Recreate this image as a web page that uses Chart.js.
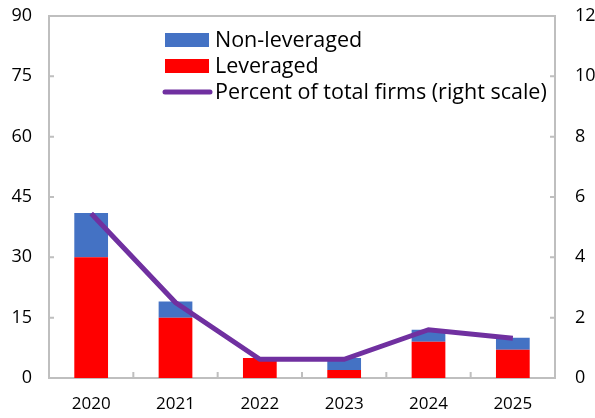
<!DOCTYPE html>
<html>
<head>
<meta charset="utf-8">
<script src="https://cdn.jsdelivr.net/npm/chart.js@4"></script>
<style>
  html, body { margin: 0; padding: 0; background: #ffffff; }
  #wrap { width: 595px; height: 418px; }
</style>
</head>
<body>
<div id="wrap"><canvas id="c" width="595" height="418"></canvas></div>
<script>
const categories = ["2020", "2021", "2022", "2023", "2024", "2025"];
const leveraged = [30, 15, 5, 2, 9, 7];
const nonLeveraged = [11, 4, 0, 3, 3, 3];
const percentOfFirms = [5.45, 2.5, 0.62, 0.62, 1.6, 1.32];
const leftTicks = [0, 15, 30, 45, 60, 75, 90];
const rightTicks = [0, 2, 4, 6, 8, 10, 12];

const FONT = "'Open Sans', 'Noto Sans', sans-serif";
const AXIS = "#bfbfbf";

const framePlugin = {
  id: "frame",
  afterDatasetsDraw(chart) {
    const ctx = chart.ctx;
    const a = chart.chartArea;
    const x = chart.scales.x, y = chart.scales.y, y1 = chart.scales.y1;
    ctx.save();
    ctx.strokeStyle = AXIS;
    ctx.lineWidth = 2;
    ctx.beginPath();
    ctx.moveTo(a.left - 1, a.top);
    ctx.lineTo(a.right + 1, a.top);
    y.ticks.forEach(t => {
      const py = y.getPixelForValue(t.value);
      ctx.moveTo(a.left, py);
      ctx.lineTo(a.left + 5, py);
    });
    y1.ticks.forEach(t => {
      const py = y1.getPixelForValue(t.value);
      ctx.moveTo(a.right, py);
      ctx.lineTo(a.right - 5, py);
    });
    for (let i = 1; i < categories.length; i++) {
      const px = (x.getPixelForValue(i - 1) + x.getPixelForValue(i)) / 2;
      ctx.moveTo(px, a.bottom);
      ctx.lineTo(px, a.bottom - 6);
    }
    ctx.stroke();
    ctx.restore();
  }
};

const legendPlugin = {
  id: "insideLegend",
  afterDraw(chart) {
    const ctx = chart.ctx;
    const ds = chart.data.datasets;
    const items = [ds[2], ds[1], ds[0]];
    const x0 = 165, x1 = 209, tx = 215;
    const rows = [40, 66, 92];
    ctx.save();
    ctx.font = "21.5px " + FONT;
    ctx.textBaseline = "middle";
    items.forEach((d, i) => {
      const cy = rows[i];
      if (d.type === "line") {
        ctx.strokeStyle = d.borderColor;
        ctx.lineWidth = 5;
        ctx.lineCap = "round";
        ctx.beginPath();
        ctx.moveTo(x0, cy);
        ctx.lineTo(x1 + 1, cy);
        ctx.stroke();
      } else {
        ctx.fillStyle = d.backgroundColor;
        ctx.fillRect(x0, cy - 7, x1 - x0, 14);
      }
      ctx.fillStyle = "#000000";
      ctx.textAlign = "left";
      ctx.fillText(d.label, tx, cy + 1);
    });
    ctx.restore();
  }
};

new Chart(document.getElementById("c"), {
  type: "bar",
  data: {
    labels: categories,
    datasets: [
      {
        label: "Percent of total firms (right scale)",
        type: "line",
        data: percentOfFirms,
        yAxisID: "y1",
        borderColor: "#7030a0",
        backgroundColor: "#7030a0",
        borderWidth: 5,
        pointRadius: 0,
        tension: 0,
        order: 0
      },
      {
        label: "Leveraged",
        data: leveraged,
        yAxisID: "y",
        backgroundColor: "#ff0000",
        barPercentage: 0.4,
        categoryPercentage: 1.0,
        stack: "s",
        order: 1
      },
      {
        label: "Non-leveraged",
        data: nonLeveraged,
        yAxisID: "y",
        backgroundColor: "#4472c4",
        barPercentage: 0.4,
        categoryPercentage: 1.0,
        stack: "s",
        order: 1
      }
    ]
  },
  options: {
    responsive: false,
    animation: false,
    devicePixelRatio: 1,
    layout: { padding: { top: 16, left: 0, right: 0, bottom: 0 } },
    plugins: { legend: { display: false }, tooltip: { enabled: false } },
    scales: {
      x: {
        stacked: true,
        offset: true,
        grid: { display: false, drawTicks: false },
        border: { display: true, color: AXIS, width: 2 },
        ticks: { color: "#000000", font: { family: FONT, size: 17 }, padding: 16, maxRotation: 0 },
        afterFit(s) { s.height = 40; s.paddingLeft = 0; s.paddingRight = 0; }
      },
      y: {
        position: "left",
        stacked: true,
        min: 0, max: 90,
        afterBuildTicks(s) { s.ticks = leftTicks.map(v => ({ value: v })); },
        grid: { display: false, drawTicks: false },
        border: { display: true, color: AXIS, width: 2 },
        ticks: { color: "#000000", font: { family: FONT, size: 18 }, padding: 17 },
        afterFit(s) { s.width = 49; s.paddingTop = 0; s.paddingBottom = 0; }
      },
      y1: {
        position: "right",
        min: 0, max: 12,
        afterBuildTicks(s) { s.ticks = rightTicks.map(v => ({ value: v })); },
        grid: { display: false, drawTicks: false },
        border: { display: true, color: AXIS, width: 2 },
        ticks: { color: "#000000", font: { family: FONT, size: 18 }, padding: 20 },
        afterFit(s) { s.width = 40; s.paddingTop = 0; s.paddingBottom = 0; }
      }
    }
  },
  plugins: [framePlugin, legendPlugin]
});
</script>
</body>
</html>
